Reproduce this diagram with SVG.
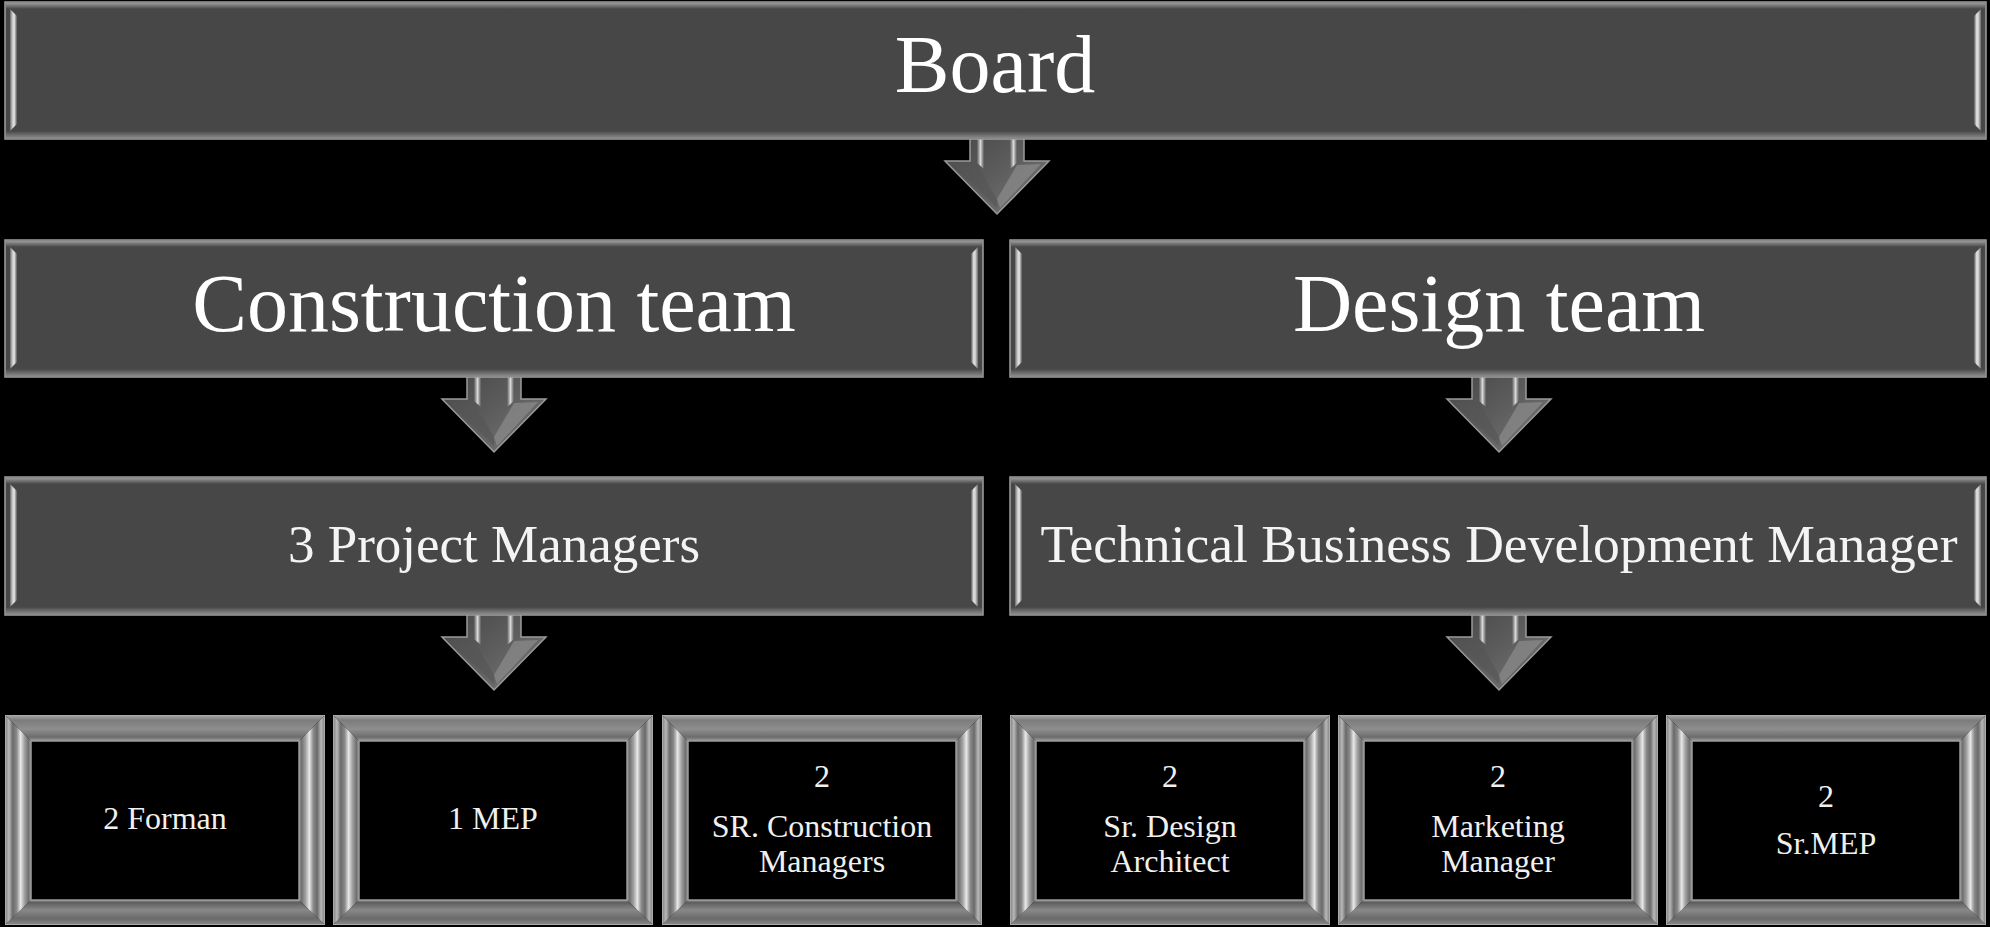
<svg xmlns="http://www.w3.org/2000/svg" width="1990" height="927" viewBox="0 0 1990 927">
<style>
.box{fill:#474747;stroke:#a0a0a0;stroke-width:1.5}
.big{font-family:"Liberation Serif","Times New Roman",serif;font-size:82px;fill:#ffffff;text-anchor:middle}
.mid{font-family:"Liberation Serif","Times New Roman",serif;font-size:53px;fill:#f4f4f4;text-anchor:middle}
.sm{font-family:"Liberation Serif","Times New Roman",serif;font-size:32px;fill:#f0f0f0;text-anchor:middle}
.barL{fill:url(#gBarL)}
.barR{fill:url(#gBarR)}
.topH{fill:url(#gTop)}
.botH{fill:url(#gBot)}
</style>
<defs>
<linearGradient id="gBarL" x1="0" y1="0" x2="1" y2="0">
<stop offset="0" stop-color="#6a6a6a"/><stop offset="0.35" stop-color="#c8c8c8"/><stop offset="0.6" stop-color="#e6e6e6"/><stop offset="1" stop-color="#5a5a5a"/>
</linearGradient>
<linearGradient id="gBarR" x1="1" y1="0" x2="0" y2="0">
<stop offset="0" stop-color="#6a6a6a"/><stop offset="0.35" stop-color="#c8c8c8"/><stop offset="0.6" stop-color="#e6e6e6"/><stop offset="1" stop-color="#5a5a5a"/>
</linearGradient>
<linearGradient id="gTop" x1="0" y1="0" x2="0" y2="1">
<stop offset="0" stop-color="#9a9a9a"/><stop offset="1" stop-color="#474747"/>
</linearGradient>
<linearGradient id="gBot" x1="0" y1="1" x2="0" y2="0">
<stop offset="0" stop-color="#8a8a8a"/><stop offset="1" stop-color="#474747"/>
</linearGradient>
<linearGradient id="fTop" x1="0" y1="0" x2="0" y2="1">
<stop offset="0" stop-color="#a8a8a8"/><stop offset="0.2" stop-color="#7c7c7c"/><stop offset="0.55" stop-color="#8e8e8e"/><stop offset="0.85" stop-color="#6c6c6c"/><stop offset="1" stop-color="#a0a0a0"/>
</linearGradient>
<linearGradient id="fBot" x1="0" y1="1" x2="0" y2="0">
<stop offset="0" stop-color="#8a8a8a"/><stop offset="0.25" stop-color="#6a6a6a"/><stop offset="0.6" stop-color="#888888"/><stop offset="0.9" stop-color="#5e5e5e"/><stop offset="1" stop-color="#9a9a9a"/>
</linearGradient>
<linearGradient id="fL" x1="0" y1="0" x2="1" y2="0">
<stop offset="0" stop-color="#7a7a7a"/><stop offset="0.15" stop-color="#b8b8b8"/><stop offset="0.3" stop-color="#6a6a6a"/><stop offset="0.45" stop-color="#8a8a8a"/><stop offset="0.6" stop-color="#e8e8e8"/><stop offset="0.75" stop-color="#a0a0a0"/><stop offset="0.9" stop-color="#707070"/><stop offset="1" stop-color="#9a9a9a"/>
</linearGradient>
<linearGradient id="fR" x1="1" y1="0" x2="0" y2="0">
<stop offset="0" stop-color="#7a7a7a"/><stop offset="0.15" stop-color="#b8b8b8"/><stop offset="0.3" stop-color="#6a6a6a"/><stop offset="0.45" stop-color="#8a8a8a"/><stop offset="0.6" stop-color="#e8e8e8"/><stop offset="0.75" stop-color="#a0a0a0"/><stop offset="0.9" stop-color="#707070"/><stop offset="1" stop-color="#9a9a9a"/>
</linearGradient>
<linearGradient id="aStripe" x1="0" y1="0" x2="1" y2="0">
<stop offset="0" stop-color="#5a5a5a"/><stop offset="0.5" stop-color="#d8d8d8"/><stop offset="1" stop-color="#5a5a5a"/>
</linearGradient>
<linearGradient id="aHead" x1="0" y1="0" x2="1" y2="1">
<stop offset="0" stop-color="#444444"/><stop offset="0.5" stop-color="#5c5c5c"/><stop offset="1" stop-color="#7a7a7a"/>
</linearGradient>
<g id="arrow">
<path d="M-27,-12 L27,-12 L27,22 L52,22 L0,75 L-52,22 L-27,22 Z" fill="url(#aHead)" stroke="#9a9a9a" stroke-width="1.5"/>
<path d="M-20,-10 L-13,-10 L-13,30 L-20,24 Z" fill="url(#aStripe)"/>
<path d="M13,-10 L20,-10 L20,24 L13,30 Z" fill="url(#aStripe)"/>
<path d="M20,26 L44,25 L3,69 L0,60 Z" fill="#8c8c8c" opacity="0.7"/>
<path d="M-44,25 L-20,26 L0,60 L0,69 Z" fill="#555555" opacity="0.6"/>
</g>
<g id="frame">
<rect x="0" y="0" width="320" height="210" fill="#000"/>
<path d="M0,0 L320,0 L294,26 L26,26 Z" fill="url(#fTop)"/>
<path d="M0,210 L320,210 L294,185 L26,185 Z" fill="url(#fBot)"/>
<path d="M0,0 L26,26 L26,185 L0,210 Z" fill="url(#fL)"/>
<path d="M320,0 L294,26 L294,185 L320,210 Z" fill="url(#fR)"/>
<rect x="26" y="26" width="268" height="159" fill="#000" stroke="#9a9a9a" stroke-width="1.5"/>
<rect x="0.5" y="0.5" width="319" height="209" fill="none" stroke="#aaaaaa" stroke-width="1"/>
</g>
</defs>
<rect x="0" y="0" width="1990" height="927" fill="#000"/>

<g id="connectors">
<use href="#arrow" transform="translate(997,139)"/>
<use href="#arrow" transform="translate(494,377)"/>
<use href="#arrow" transform="translate(1499,377)"/>
<use href="#arrow" transform="translate(494,615)"/>
<use href="#arrow" transform="translate(1499,615)"/>
</g>

<g id="node-board">
<rect class="box" x="5" y="2" width="1981" height="137"/>
<path class="topH" d="M6,3 L1985,3 L1985,9 L6,9 Z"/>
<path class="botH" d="M6,131 L1985,131 L1985,138 L6,138 Z"/>
<path class="barL" d="M10,9 L17,16 L17,124 L10,131 Z"/>
<path class="barR" d="M1981,9 L1974,16 L1974,124 L1981,131 Z"/>
<text class="big" x="995" y="92">Board</text>
</g>

<g id="node-construction">
<rect class="box" x="5" y="240" width="978" height="137"/>
<path class="topH" d="M6,241 L982,241 L982,247 L6,247 Z"/>
<path class="botH" d="M6,369 L982,369 L982,376 L6,376 Z"/>
<path class="barL" d="M10,247 L17,254 L17,362 L10,369 Z"/>
<path class="barR" d="M978,247 L971,254 L971,362 L978,369 Z"/>
<text class="big" x="494" y="331">Construction team</text>
</g>

<g id="node-design">
<rect class="box" x="1010" y="240" width="976" height="137"/>
<path class="topH" d="M1011,241 L1985,241 L1985,247 L1011,247 Z"/>
<path class="botH" d="M1011,369 L1985,369 L1985,376 L1011,376 Z"/>
<path class="barL" d="M1015,247 L1022,254 L1022,362 L1015,369 Z"/>
<path class="barR" d="M1981,247 L1974,254 L1974,362 L1981,369 Z"/>
<text class="big" x="1499" y="331">Design team</text>
</g>

<g id="node-pm">
<rect class="box" x="5" y="477" width="978" height="138"/>
<path class="topH" d="M6,478 L982,478 L982,484 L6,484 Z"/>
<path class="botH" d="M6,607 L982,607 L982,614 L6,614 Z"/>
<path class="barL" d="M10,484 L17,491 L17,600 L10,607 Z"/>
<path class="barR" d="M978,484 L971,491 L971,600 L978,607 Z"/>
<text class="mid" x="494" y="562">3 Project Managers</text>
</g>

<g id="node-tbdm">
<rect class="box" x="1010" y="477" width="976" height="138"/>
<path class="topH" d="M1011,478 L1985,478 L1985,484 L1011,484 Z"/>
<path class="botH" d="M1011,607 L1985,607 L1985,614 L1011,614 Z"/>
<path class="barL" d="M1015,484 L1022,491 L1022,600 L1015,607 Z"/>
<path class="barR" d="M1981,484 L1974,491 L1974,600 L1981,607 Z"/>
<text class="mid" x="1499" y="562" textLength="917" lengthAdjust="spacingAndGlyphs">Technical Business Development Manager</text>
</g>

<g id="node-forman">
<use href="#frame" transform="translate(5,715)"/>
<text class="sm" x="165" y="829">2 Forman</text>
</g>
<g id="node-mep">
<use href="#frame" transform="translate(333,715)"/>
<text class="sm" x="493" y="829">1 MEP</text>
</g>
<g id="node-src">
<use href="#frame" transform="translate(662,715)"/>
<text class="sm" x="822" y="787">2</text>
<text class="sm" x="822" y="837">SR. Construction</text>
<text class="sm" x="822" y="872">Managers</text>
</g>
<g id="node-sda">
<use href="#frame" transform="translate(1010,715)"/>
<text class="sm" x="1170" y="787">2</text>
<text class="sm" x="1170" y="837">Sr. Design</text>
<text class="sm" x="1170" y="872">Architect</text>
</g>
<g id="node-mm">
<use href="#frame" transform="translate(1338,715)"/>
<text class="sm" x="1498" y="787">2</text>
<text class="sm" x="1498" y="837">Marketing</text>
<text class="sm" x="1498" y="872">Manager</text>
</g>
<g id="node-srmep">
<use href="#frame" transform="translate(1666,715)"/>
<text class="sm" x="1826" y="807">2</text>
<text class="sm" x="1826" y="854">Sr.MEP</text>
</g>
</svg>
